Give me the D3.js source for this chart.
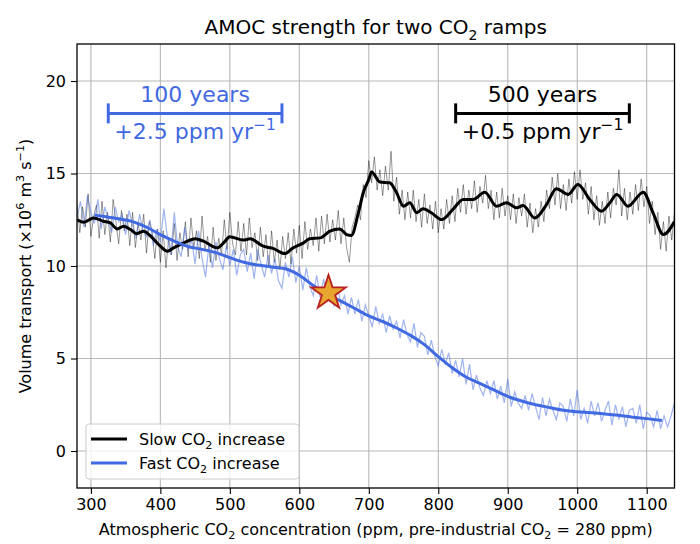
<!DOCTYPE html>
<html>
<head>
<meta charset="utf-8">
<script src="https://cdn.jsdelivr.net/npm/d3@7"></script>
<style>
  body { margin: 0; background: #fff; }
  text { font-family: "DejaVu Sans", sans-serif; fill: #000; }
</style>
</head>
<body>
<div id="chart"></div>
<script>
// colours
const SLOW_COLOR = "#000000";
const FAST_COLOR = "#4169e1";
const GRID_COLOR = "#b8b8b8";

// axis ticks
const xTicks = [300, 400, 500, 600, 700, 800, 900, 1000, 1100];
const yTicks = [0, 5, 10, 15, 20];

// slow ramp, smoothed (CO2 ppm -> Sv)
const slowSmoothCO2 = [280, 290, 304, 318, 328, 338, 347, 357, 366, 376,
    385, 400, 410, 419, 434, 450, 462, 482, 491, 500,
    519, 529, 548, 563, 579, 591, 606, 615, 630, 644,
    658, 668, 675, 685, 692, 700, 704, 716, 730, 740,
    750, 759, 769, 778, 790, 805, 821, 836, 850, 867,
    884, 898, 913, 922, 939, 956, 970, 987, 1001, 1018,
    1035, 1047, 1057, 1073, 1095, 1109, 1124, 1140];
const slowSmoothValue = [12.5, 12.37, 12.6, 12.42, 12.33, 12.0, 12.15, 11.97, 11.75, 11.88,
    11.65, 11.07, 10.8, 10.98, 11.25, 11.47, 11.34, 10.98, 11.25, 11.58,
    11.4, 11.47, 11.07, 10.94, 10.67, 10.98, 11.25, 11.47, 11.52, 11.88,
    12.0, 11.7, 11.65, 12.88, 13.96, 14.68, 15.08, 14.54, 14.5, 13.96,
    13.23, 13.42, 12.88, 13.09, 12.88, 12.51, 13.06, 13.6, 13.6, 13.99,
    13.23, 13.42, 13.15, 13.27, 12.6, 13.33, 14.18, 13.87, 14.41, 13.6,
    12.96, 13.42, 13.87, 13.23, 13.99, 12.88, 11.7, 12.4];

// slow ramp, yearly values sampled every 4 ppm from 280 to 1140
const slowRaw = [
    13.4, 11.8, 13.2, 12.1, 13.9, 11.6, 12.7, 13.3, 11.5, 13.5,
    11.7, 12.9, 11.3, 13.6, 12.4, 11.2, 13.0, 11.9, 12.8, 11.1,
    12.9, 11.0, 12.3, 11.4, 12.8, 10.7, 12.4, 11.9, 10.4, 12.0,
    10.2, 11.9, 9.9, 11.5, 10.6, 12.3, 10.3, 11.8, 10.9, 12.4,
    10.5, 12.6, 11.0, 11.9, 10.4, 12.7, 10.8, 11.6, 10.2, 12.1,
    10.3, 11.5, 10.6, 12.5, 10.9, 12.9, 11.2, 10.6, 12.4, 10.8,
    12.3, 10.6, 12.6, 11.0, 11.8, 10.3, 12.1, 10.5, 11.7, 9.9,
    11.9, 10.2, 11.4, 9.8, 11.6, 10.4, 11.8, 10.1, 12.0, 10.7,
    12.2, 10.4, 12.4, 10.9, 12.0, 11.1, 12.6, 10.8, 12.7, 11.2,
    12.8, 11.3, 12.5, 11.4, 13.0, 11.2, 12.6, 11.0, 10.2, 12.1,
    12.6, 13.3, 12.5, 14.4, 13.7, 15.7, 14.5, 15.9, 14.1, 15.2,
    13.8, 15.4, 14.1, 16.2, 13.5, 14.8, 12.8, 14.1, 12.5, 14.0,
    12.6, 14.1, 12.4, 13.6, 12.1, 13.9, 12.3, 13.3, 12.0, 13.5,
    11.8, 13.1, 12.0, 13.6, 12.3, 13.8, 12.4, 14.2, 12.9, 14.4,
    12.8, 14.1, 13.1, 14.6, 12.9, 14.3, 13.4, 14.9, 13.1, 14.1,
    12.5, 14.0, 12.6, 14.2, 12.7, 13.8, 12.5, 13.9, 12.3, 13.7,
    12.7, 13.9, 12.1, 13.4, 11.8, 13.1, 12.1, 13.5, 12.4, 14.1,
    13.1, 14.8, 13.3, 15.0, 13.1, 14.4, 13.0, 14.7, 13.4, 15.1,
    13.6, 15.2, 13.6, 14.5, 12.8, 14.3, 12.5, 13.8, 12.2, 13.5,
    12.3, 14.0, 12.6, 14.2, 13.3, 15.2, 12.7, 14.2, 12.5, 14.0,
    12.8, 14.4, 13.0, 14.7, 13.2, 14.3, 12.3, 13.5, 11.7, 12.9,
    10.9, 12.4, 10.8, 12.7, 11.4, 12.9];

// fast ramp, smoothed
const fastSmoothCO2 = [305, 320, 340, 360, 380, 400, 420, 440, 460, 480,
    500, 520, 540, 560, 580, 600, 620, 640, 660, 680,
    700, 720, 740, 760, 780, 800, 820, 840, 860, 880,
    900, 920, 940, 960, 980, 1000, 1020, 1040, 1060, 1080,
    1100, 1122];
const fastSmoothValue = [12.75, 12.68, 12.55, 12.4, 12.1, 11.7, 11.35, 11.05, 10.9, 10.72,
    10.45, 10.2, 10.05, 9.95, 9.85, 9.5, 8.95, 8.5, 8.1, 7.7,
    7.3, 7.0, 6.65, 6.25, 5.75, 5.1, 4.5, 4.0, 3.65, 3.3,
    2.95, 2.7, 2.5, 2.35, 2.2, 2.12, 2.07, 2.0, 1.93, 1.83,
    1.75, 1.65];

// fast ramp, yearly values sampled every 5 ppm from 280 to 1140
const fastRaw = [
    12.6, 13.5, 12.1, 13.8, 12.9, 12.3, 13.6, 12.0, 13.2, 12.5,
    11.8, 13.2, 12.4, 12.8, 11.7, 13.0, 12.2, 11.5, 12.8, 11.9,
    11.6, 12.5, 11.1, 12.0, 11.3, 13.1, 11.6, 10.6, 12.9, 11.0,
    10.5, 12.1, 10.9, 11.4, 10.1, 11.9, 10.4, 9.4, 11.2, 9.9,
    11.3, 10.4, 9.8, 11.1, 10.0, 10.9, 9.5, 10.6, 10.9, 9.7,
    10.7, 9.3, 10.9, 10.1, 9.4, 10.6, 9.6, 10.4, 9.2, 8.8,
    10.2, 9.4, 10.5, 9.1, 10.0, 8.7, 9.9, 8.9, 8.4, 9.5,
    8.3, 9.3, 8.1, 8.8, 7.8, 8.9, 7.9, 8.4, 7.4, 8.3,
    7.4, 8.2, 7.0, 7.9, 7.3, 6.7, 7.8, 6.9, 7.4, 6.4,
    7.3, 6.6, 7.0, 6.1, 7.1, 6.3, 5.9, 6.9, 5.6, 6.4,
    6.2, 5.2, 6.0, 5.1, 4.6, 5.5, 4.7, 5.3, 4.2, 4.9,
    4.0, 5.0, 3.6, 4.7, 3.3, 4.1, 3.4, 3.0, 3.8, 3.1,
    3.8, 2.8, 3.5, 2.6, 3.9, 2.4, 3.2, 2.6, 2.3, 3.0,
    2.2, 3.1, 2.4, 1.7, 2.9, 1.9, 2.8, 2.2, 1.7, 2.6,
    2.4, 1.6, 2.8, 1.9, 3.3, 1.7, 2.3, 1.5, 2.7, 1.9,
    2.6, 1.6, 2.2, 2.7, 1.4, 2.5, 1.7, 2.4, 1.3, 2.2,
    2.3, 1.5, 2.5, 1.2, 2.1, 1.9, 1.3, 2.2, 1.2, 1.9,
    1.3, 1.9, 2.6];

// tipping marker
const starCO2 = 642;
const starValue = 8.54;

// duration bars: [start ppm, end ppm, level]
const fastSpan = [325, 575, 18.25];
const slowSpan = [825, 1075, 18.25];

const width = 700, height = 544;
const margin = { top: 44, right: 25.5, bottom: 56, left: 77 };
const plotW = width - margin.left - margin.right;
const plotH = height - margin.top - margin.bottom;

// text with sub/superscript pieces
function rich(sel, parts, fs) {
    let shift = 0;
    parts.forEach(p => {
        const s = typeof p === "string" ? p : p[0];
        const mode = typeof p === "string" ? null : p[1];
        const target = mode === "sub" ? fs * 0.28 : mode === "sup" ? -fs * 0.42 : 0;
        const t = sel.append("tspan").attr("dy", target - shift).text(s);
        if (mode) t.attr("font-size", fs * 0.7);
        shift = target;
    });
    return sel;
}

var svg = d3.select("#chart")
    .append("svg")
    .attr("width", width)
    .attr("height", height);

svg.append("rect")
    .attr("width", width)
    .attr("height", height)
    .attr("fill", "white");

var g = svg.append("g")
    .attr("transform", `translate(${margin.left},${margin.top})`);

var xScale = d3.scaleLinear().domain([280, 1140]).range([0, plotW]);
var yScale = d3.scaleLinear().domain([-2, 22]).range([plotH, 0]);

svg.append("defs").append("clipPath")
    .attr("id", "plotclip")
    .append("rect")
    .attr("width", plotW)
    .attr("height", plotH);

// grid
g.selectAll(".xgrid")
    .data(xTicks)
    .enter()
    .append("line")
    .attr("x1", d => xScale(d))
    .attr("x2", d => xScale(d))
    .attr("y1", 0)
    .attr("y2", plotH)
    .attr("stroke", GRID_COLOR)
    .attr("stroke-width", 1.1);

g.selectAll(".ygrid")
    .data(yTicks)
    .enter()
    .append("line")
    .attr("x1", 0)
    .attr("x2", plotW)
    .attr("y1", d => yScale(d))
    .attr("y2", d => yScale(d))
    .attr("stroke", GRID_COLOR)
    .attr("stroke-width", 1.1);

// axes
var xAxis = g.append("g")
    .attr("transform", `translate(0,${plotH})`)
    .call(d3.axisBottom(xScale).tickValues(xTicks).tickSize(6).tickPadding(5).tickFormat(d3.format("d")));
var yAxis = g.append("g")
    .call(d3.axisLeft(yScale).tickValues(yTicks).tickSize(6).tickPadding(5).tickFormat(d3.format("d")));

[xAxis, yAxis].forEach(a => {
    a.select(".domain").remove();
    a.selectAll(".tick line").attr("stroke", "#000").attr("stroke-width", 1.1);
    a.selectAll(".tick text")
        .attr("font-size", 16)
        .style("font-family", "DejaVu Sans, sans-serif")
        .attr("fill", "#000");
});

var plot = g.append("g").attr("clip-path", "url(#plotclip)");

var slowRawCO2 = d3.range(280, 1141, 4);
var fastRawCO2 = d3.range(280, 1141, 5);

var line = d3.line().x(d => xScale(d[0])).y(d => yScale(d[1]));
var smoothLine = d3.line().x(d => xScale(d[0])).y(d => yScale(d[1])).curve(d3.curveMonotoneX);

plot.append("path")
    .datum(slowRawCO2.map((c, i) => [c, slowRaw[i]]))
    .attr("d", line)
    .attr("fill", "none")
    .attr("stroke", SLOW_COLOR)
    .attr("stroke-opacity", 0.45)
    .attr("stroke-width", 0.9);

plot.append("path")
    .datum(fastRawCO2.map((c, i) => [c, fastRaw[i]]))
    .attr("d", line)
    .attr("fill", "none")
    .attr("stroke", FAST_COLOR)
    .attr("stroke-opacity", 0.5)
    .attr("stroke-width", 1.2);

plot.append("path")
    .datum(slowSmoothCO2.map((c, i) => [c, slowSmoothValue[i]]))
    .attr("d", smoothLine)
    .attr("fill", "none")
    .attr("stroke", SLOW_COLOR)
    .attr("stroke-width", 3)
    .attr("stroke-linejoin", "round");

plot.append("path")
    .datum(fastSmoothCO2.map((c, i) => [c, fastSmoothValue[i]]))
    .attr("d", smoothLine)
    .attr("fill", "none")
    .attr("stroke", FAST_COLOR)
    .attr("stroke-width", 3)
    .attr("stroke-linejoin", "round");

// star
g.append("path")
    .attr("d", d3.symbol().type(d3.symbolStar).size(370))
    .attr("transform", `translate(${xScale(starCO2)},${yScale(starValue)})`)
    .attr("fill", "#e8a630")
    .attr("stroke", "#b8231f")
    .attr("stroke-width", 1.8)
    .attr("stroke-linejoin", "miter");

// frame
g.append("rect")
    .attr("width", plotW)
    .attr("height", plotH)
    .attr("fill", "none")
    .attr("stroke", "#000")
    .attr("stroke-width", 1.3);

// duration bars
function spanBar(span, color, top, bottom) {
    var x0 = xScale(span[0]), x1 = xScale(span[1]), yy = yScale(span[2]);
    var bar = g.append("g");
    bar.append("line").attr("x1", x0).attr("x2", x1).attr("y1", yy).attr("y2", yy)
        .attr("stroke", color).attr("stroke-width", 3);
    [x0, x1].forEach(xx => {
        bar.append("line").attr("x1", xx).attr("x2", xx).attr("y1", yy - 10).attr("y2", yy + 10)
            .attr("stroke", color).attr("stroke-width", 3);
    });
    var cx = (x0 + x1) / 2;
    rich(bar.append("text").attr("x", cx).attr("y", yy - 11).attr("text-anchor", "middle")
        .attr("font-size", 22).style("fill", color), top, 22);
    rich(bar.append("text").attr("x", cx).attr("y", yy + 26).attr("text-anchor", "middle")
        .attr("font-size", 22).style("fill", color), bottom, 22);
}
spanBar(fastSpan, FAST_COLOR, ["100 years"], ["+2.5 ppm yr", ["\u22121", "sup"]]);
spanBar(slowSpan, SLOW_COLOR, ["500 years"], ["+0.5 ppm yr", ["\u22121", "sup"]]);

// legend
var leg = g.append("g").attr("transform", `translate(${9},${plotH - 64})`);
leg.append("rect")
    .attr("width", 213)
    .attr("height", 55)
    .attr("rx", 3)
    .attr("fill", "white")
    .attr("fill-opacity", 0.8)
    .attr("stroke", "#cccccc");
[["Slow CO", SLOW_COLOR], ["Fast CO", FAST_COLOR]].forEach((d, i) => {
    var yy = 15 + i * 24;
    leg.append("line").attr("x1", 5).attr("x2", 41).attr("y1", yy).attr("y2", yy)
        .attr("stroke", d[1]).attr("stroke-width", 3);
    rich(leg.append("text").attr("x", 53).attr("y", yy + 6).attr("font-size", 16),
        [d[0], ["2", "sub"], " increase"], 16);
});

// title and labels
rich(svg.append("text").attr("x", margin.left + plotW / 2).attr("y", 34)
    .attr("text-anchor", "middle").attr("font-size", 20),
    ["AMOC strength for two CO", ["2", "sub"], " ramps"], 20);

rich(svg.append("text").attr("x", margin.left + plotW / 2).attr("y", 535)
    .attr("text-anchor", "middle").attr("font-size", 16),
    ["Atmospheric CO", ["2", "sub"], " concentration (ppm, pre-industrial CO", ["2", "sub"], " = 280 ppm)"], 16);

rich(svg.append("text")
    .attr("transform", `translate(31,${margin.top + plotH / 2}) rotate(-90)`)
    .attr("text-anchor", "middle").attr("font-size", 16),
    ["Volume transport (\u00d710", ["6", "sup"], " m", ["3", "sup"], " s", ["\u22121", "sup"], ")"], 16);
</script>
</body>
</html>
